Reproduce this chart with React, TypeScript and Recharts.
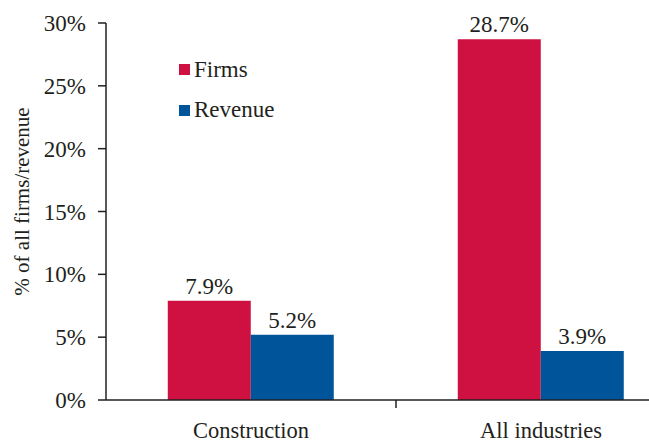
import { BarChart, Bar, XAxis, YAxis, Legend, LabelList } from 'recharts';

const categories = ['Construction', 'All industries'];
const firms = [7.9, 28.7];
const revenue = [5.2, 3.9];
const yTicks = [0, 5, 10, 15, 20, 25, 30];

const data = categories.map((name, i) => ({ name, firms: firms[i], revenue: revenue[i] }));

const RED = '#ce1141';
const BLUE = '#00559a';
const INK = '#231f20';

const CategoryTick = (props: any) => {
  const { x, y, payload } = props;
  const half = payload?.offset ?? 0;
  return (
    <g>
      <line x1={x + half} x2={x + half} y1={y} y2={y + 8} stroke={INK} strokeWidth={1.5} />
      <text x={x} y={y + 38} textAnchor="middle" fontSize={22.5} fill={INK}>
        {payload.value}
      </text>
    </g>
  );
};

const LegendBox = (props: any) => {
  const { payload } = props;
  return (
    <div>
      {(payload || []).map((p: any) => (
        <div key={p.value} style={{ display: 'flex', alignItems: 'center', height: 24, marginBottom: 16.5 }}>
          <span style={{ width: 11, height: 11, background: p.color, marginRight: 4, display: 'inline-block' }} />
          <span style={{ fontSize: 23, color: INK }}>{p.value}</span>
        </div>
      ))}
    </div>
  );
};

export default function App() {
  return (
    <div
      style={{
        position: 'absolute',
        top: 8,
        left: 8,
        width: 641,
        height: 434,
        overflow: 'hidden',
        fontFamily: '"Liberation Serif", "Times New Roman", serif',
      }}
    >
      <BarChart
        width={680}
        height={434}
        data={data}
        margin={{ top: 15, right: 2, left: 0, bottom: 0 }}
        barCategoryGap="21.3%"
        barGap={0}
      >
        <XAxis
          dataKey="name"
          height={42}
          interval={0}
          tickLine={false}
          tickSize={0}
          tickMargin={0}
          axisLine={{ stroke: INK, strokeWidth: 1.5 }}
          tick={<CategoryTick />}
        />
        <YAxis
          width={98}
          domain={[0, 30]}
          ticks={yTicks}
          tickFormatter={(v) => `${v}%`}
          tick={{ fill: INK, fontSize: 23 }}
          tickSize={8}
          tickMargin={12}
          axisLine={{ stroke: INK, strokeWidth: 1.5 }}
          tickLine={{ stroke: INK, strokeWidth: 1.5 }}
          label={{
            content: ({ viewBox }: any) => (
              <text
                x={viewBox.x + 14}
                y={viewBox.y + viewBox.height / 2 - 10}
                transform={`rotate(-90 ${viewBox.x + 14} ${viewBox.y + viewBox.height / 2 - 10})`}
                textAnchor="middle"
                dominantBaseline="central"
                fontSize={21}
                fill={INK}
              >
                % of all firms/revenue
              </text>
            ),
          }}
        />
        <Legend
          layout="vertical"
          align="center"
          verticalAlign="middle"
          content={<LegendBox />}
          wrapperStyle={{ position: 'absolute', top: 49.5, left: 171, width: 'auto' }}
        />
        <Bar dataKey="firms" name="Firms" fill={RED} isAnimationActive={false}>
          <LabelList dataKey="firms" position="top" offset={7} formatter={(v: any) => `${v}%`} fill={INK} fontSize={23} />
        </Bar>
        <Bar dataKey="revenue" name="Revenue" fill={BLUE} isAnimationActive={false}>
          <LabelList dataKey="revenue" position="top" offset={7} formatter={(v: any) => `${v}%`} fill={INK} fontSize={23} />
        </Bar>
      </BarChart>
    </div>
  );
}
